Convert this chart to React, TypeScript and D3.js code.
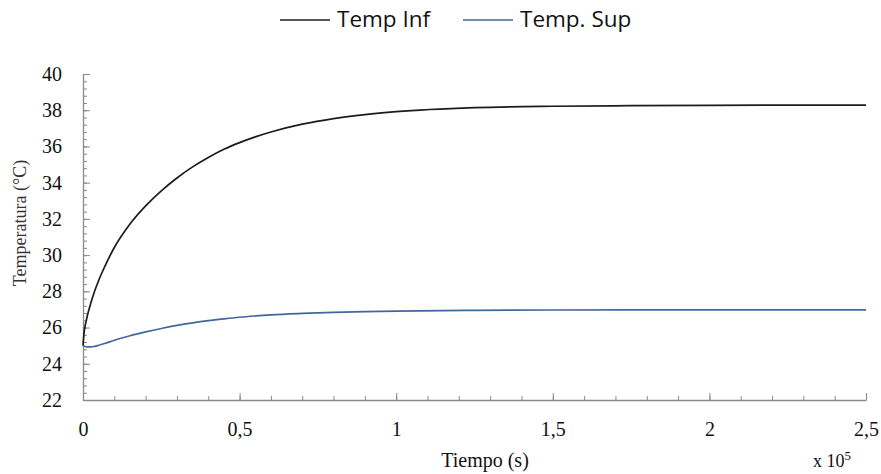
import React, { useEffect, useRef } from "react";
import * as d3 from "d3";

// time in units of 10^5 s
const tiempo = [0, 0.004, 0.01, 0.016, 0.025, 0.037, 0.05, 0.069, 0.1, 0.15, 0.2, 0.25, 0.3, 0.35, 0.4, 0.45, 0.5, 0.55, 0.6, 0.7, 0.8, 0.9, 1.0, 1.25, 1.5, 1.75, 2.0, 2.25, 2.5];
const tempInf = [25, 25.8, 26.35, 26.8, 27.35, 28.0, 28.6, 29.35, 30.42, 31.72, 32.72, 33.55, 34.26, 34.87, 35.39, 35.84, 36.21, 36.53, 36.8, 37.23, 37.54, 37.76, 37.92, 38.14, 38.22, 38.25, 38.27, 38.28, 38.28];
const tempSup = [25, 24.97, 24.94, 24.93, 24.93, 24.96, 25.02, 25.12, 25.3, 25.55, 25.76, 25.95, 26.12, 26.26, 26.38, 26.48, 26.57, 26.64, 26.7, 26.78, 26.84, 26.88, 26.91, 26.95, 26.97, 26.98, 26.98, 26.98, 26.98];

const xTicks = [0, 0.5, 1, 1.5, 2, 2.5];
const yTicks = [22, 24, 26, 28, 30, 32, 34, 36, 38, 40];

const series = [
  { name: "Temp Inf", values: tempInf, color: "#1c1c1c" },
  { name: "Temp. Sup", values: tempSup, color: "#41689c" },
];

const App = () => {
  const svgRef = useRef<SVGSVGElement>(null);

  useEffect(() => {
    const width = 881;
    const height = 474;
    const margin = { top: 74, right: 15, bottom: 74, left: 83 };
    const axisColor = "#8a8a8a";
    const serif = "Liberation Serif, Times New Roman, serif";

    const svg = d3.select(svgRef.current)
      .attr("width", width)
      .attr("height", height);
    svg.selectAll("*").remove();

    const x = d3.scaleLinear().domain([0, 2.5]).range([margin.left, width - margin.right]);
    const y = d3.scaleLinear().domain([22, 40]).range([height - margin.bottom, margin.top]);

    const fmt = (d: d3.NumberValue) => String(d).replace(".", ",");

    // minor ticks
    svg.append("g")
      .attr("transform", `translate(0,${y(22)})`)
      .call(d3.axisBottom(x).tickValues(d3.range(0, 2.501, 0.1)).tickSize(-4).tickFormat(() => ""))
      .call((g) => g.select(".domain").remove())
      .call((g) => g.selectAll("line").attr("stroke", axisColor));
    svg.append("g")
      .attr("transform", `translate(${x(0)},0)`)
      .call(d3.axisLeft(y).tickValues(d3.range(22, 40.001, 0.4)).tickSize(-4).tickFormat(() => ""))
      .call((g) => g.select(".domain").remove())
      .call((g) => g.selectAll("line").attr("stroke", axisColor));

    // x axis
    const gx = svg.append("g")
      .attr("transform", `translate(0,${y(22)})`)
      .call(d3.axisBottom(x).tickValues(xTicks).tickSize(-7).tickSizeOuter(0).tickPadding(22).tickFormat(fmt))
      .attr("font-family", serif)
      .attr("font-size", 20);
    gx.select(".domain").attr("stroke", axisColor).attr("stroke-width", 1.3);
    gx.selectAll("line").attr("stroke", axisColor);
    gx.selectAll("text").style("font-family", serif).style("font-size", "20px").attr("fill", "#111");

    // y axis
    const gy = svg.append("g")
      .attr("transform", `translate(${x(0)},0)`)
      .call(d3.axisLeft(y).tickValues(yTicks).tickSize(-7).tickSizeOuter(0).tickPadding(21))
      .attr("font-family", serif)
      .attr("font-size", 20);
    gy.select(".domain").attr("stroke", axisColor).attr("stroke-width", 1.3);
    gy.selectAll("line").attr("stroke", axisColor);
    gy.selectAll("text").style("font-family", serif).style("font-size", "20px").attr("fill", "#111");

    // lines
    const line = d3.line<number>()
      .x((_, i) => x(tiempo[i]))
      .y((d) => y(d))
      .curve(d3.curveMonotoneX);

    series.forEach((s) => {
      svg.append("path")
        .attr("d", line(s.values))
        .attr("fill", "none")
        .attr("stroke", s.color)
        .attr("stroke-width", 1.7);
    });

    // axis titles
    svg.append("text")
      .attr("x", 485)
      .attr("y", 467)
      .attr("text-anchor", "middle")
      .style("font-family", serif)
      .attr("font-size", 20)
      .attr("fill", "#111")
      .text("Tiempo (s)");

    const exp = svg.append("text")
      .attr("x", 813)
      .attr("y", 467)
      .style("font-family", serif)
      .attr("font-size", 18)
      .attr("fill", "#111");
    exp.append("tspan").text("x 10");
    exp.append("tspan").attr("dy", -7).attr("font-size", 13).text("5");

    svg.append("text")
      .attr("transform", `translate(26,${(y(22) + y(40)) / 2 - 14}) rotate(-90)`)
      .attr("text-anchor", "middle")
      .style("font-family", serif)
      .attr("font-size", 18)
      .attr("fill", "#333")
      .text("Temperatura (°C)");

    // legend
    const legendX = [280, 463];
    series.forEach((s, i) => {
      const lg = svg.append("g").attr("transform", `translate(${legendX[i]},0)`);
      lg.append("line")
        .attr("x1", 0).attr("x2", 50)
        .attr("y1", 20).attr("y2", 20)
        .attr("stroke", s.color)
        .attr("stroke-width", 1.7);
      lg.append("text")
        .attr("x", 57)
        .attr("y", 27)
        .style("font-family", "Open Sans, sans-serif")
        .attr("font-size", 22.5)
        .attr("fill", "#111")
        .text(s.name);
    });
  }, []);

  return (
    <svg ref={svgRef} style={{ position: "absolute", left: 0, top: 0, background: "#fff" }}></svg>
  );
};

export default App;
